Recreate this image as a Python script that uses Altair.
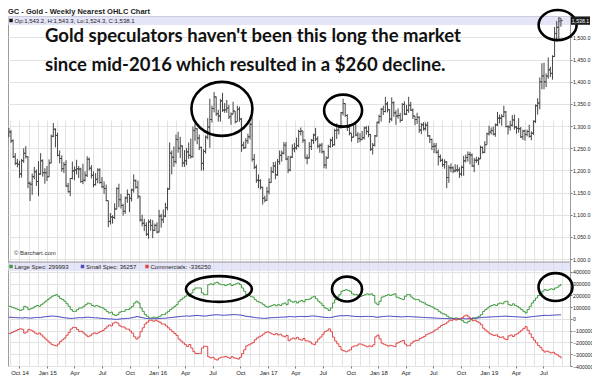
import altair as alt
import pandas as pd

# ---------------- data (weekly) ----------------
week_start = "2014-08-27"          # first weekly bar
first_open = 1280.0
last_bar = [1543.2, 1543.3, 1524.3, 1538.1]   # Op, H, Lo, C of the last bar (header)

close = [
    1287, 1267, 1231, 1216, 1214, 1192, 1222, 1239, 1231, 1171, 1169, 1186, 1197, 1175, 1192, 1222, 1195, 1195,
    1186, 1217, 1277, 1293, 1279, 1234, 1227, 1204, 1213, 1165, 1152, 1182, 1199, 1201, 1204, 1203, 1175,
    1178, 1189, 1225, 1205, 1189, 1168, 1180, 1201, 1173, 1163, 1159, 1132, 1085, 1095, 1094, 1113, 1159, 1134,
    1121, 1108, 1138, 1146, 1137, 1156, 1177, 1162, 1142, 1088, 1081, 1076, 1056, 1084, 1076, 1065, 1076,
    1061, 1097, 1089, 1097, 1116, 1158, 1239, 1230, 1220, 1270, 1250, 1255, 1217, 1222, 1242, 1234, 1231, 1290,
    1294, 1273, 1252, 1216, 1243, 1275, 1298, 1315, 1340, 1366, 1328, 1323, 1357, 1336, 1337, 1341, 1321,
    1327, 1334, 1310, 1338, 1316, 1257, 1251, 1267, 1276, 1304, 1225, 1207, 1178, 1177, 1162, 1137, 1133, 1152,
    1173, 1197, 1210, 1190, 1220, 1234, 1239, 1257, 1226, 1201, 1230, 1249, 1251, 1256, 1288, 1289, 1268,
    1228, 1228, 1254, 1268, 1280, 1271, 1255, 1257, 1242, 1212, 1228, 1254, 1268, 1258, 1290, 1291, 1297,
    1330, 1351, 1324, 1297, 1284, 1275, 1304, 1280, 1272, 1270, 1274, 1296, 1288, 1281, 1248, 1257, 1278, 1309,
    1322, 1338, 1333, 1350, 1337, 1316, 1353, 1330, 1323, 1324, 1313, 1349, 1327, 1336, 1347, 1336, 1323,
    1315, 1320, 1291, 1303, 1294, 1302, 1278, 1270, 1254, 1255, 1241, 1231, 1223, 1213, 1219, 1184, 1206, 1206,
    1199, 1201, 1201, 1192, 1207, 1222, 1229, 1236, 1235, 1210, 1223, 1223, 1226, 1252, 1241, 1258, 1283,
    1287, 1290, 1282, 1303, 1318, 1318, 1322, 1332, 1299, 1298, 1302, 1314, 1298, 1295, 1294, 1276, 1289,
    1281, 1288, 1277, 1284, 1311, 1346, 1352, 1400, 1413, 1400, 1413, 1427, 1419, 1457, 1509, 1523, 1537, 1538.1,
]
high = [
    1296, 1291, 1270, 1239, 1226, 1222, 1226, 1250, 1255, 1232, 1175, 1193, 1208, 1202, 1221, 1239, 1225, 1205,
    1210, 1225, 1281, 1307, 1295, 1285, 1245, 1234, 1219, 1223, 1172, 1183, 1220, 1209, 1224, 1210, 1206,
    1215, 1198, 1232, 1229, 1212, 1198, 1194, 1205, 1205, 1185, 1175, 1168, 1132, 1104, 1099, 1126, 1162, 1170,
    1147, 1125, 1141, 1157, 1146, 1159, 1191, 1180, 1177, 1142, 1100, 1091, 1083, 1089, 1090, 1088, 1080,
    1083, 1111, 1102, 1112, 1127, 1161, 1263, 1245, 1254, 1281, 1287, 1276, 1257, 1246, 1251, 1263, 1272, 1299,
    1306, 1296, 1281, 1254, 1248, 1279, 1318, 1362, 1346, 1377, 1367, 1337, 1361, 1375, 1352, 1359, 1348,
    1331, 1355, 1334, 1346, 1344, 1318, 1265, 1273, 1283, 1308, 1338, 1237, 1213, 1191, 1180, 1163, 1143, 1163,
    1182, 1208, 1219, 1220, 1226, 1245, 1245, 1264, 1264, 1233, 1233, 1259, 1262, 1274, 1292, 1297, 1289,
    1270, 1236, 1264, 1271, 1283, 1296, 1277, 1261, 1262, 1245, 1232, 1258, 1272, 1276, 1294, 1306, 1300,
    1332, 1362, 1352, 1327, 1305, 1284, 1306, 1306, 1287, 1284, 1289, 1299, 1300, 1301, 1282, 1262, 1280, 1310,
    1326, 1341, 1346, 1366, 1355, 1338, 1365, 1356, 1336, 1340, 1330, 1352, 1356, 1348, 1366, 1355, 1340,
    1323, 1330, 1322, 1307, 1309, 1308, 1310, 1280, 1272, 1262, 1262, 1247, 1236, 1227, 1225, 1221, 1212, 1216,
    1209, 1214, 1213, 1207, 1211, 1233, 1236, 1243, 1242, 1238, 1228, 1231, 1230, 1256, 1254, 1266, 1285,
    1301, 1297, 1299, 1306, 1332, 1326, 1327, 1346, 1334, 1302, 1312, 1325, 1326, 1300, 1318, 1298, 1292,
    1292, 1292, 1303, 1288, 1313, 1349, 1363, 1410, 1442, 1443, 1419, 1455, 1434, 1460, 1524, 1537, 1546, 1543.3,
]
low = [
    1275, 1262, 1228, 1212, 1207, 1183, 1184, 1217, 1227, 1160, 1131, 1145, 1180, 1165, 1142, 1190, 1186, 1170,
    1176, 1185, 1216, 1275, 1252, 1232, 1216, 1197, 1194, 1163, 1150, 1142, 1180, 1178, 1191, 1183, 1172,
    1169, 1175, 1185, 1200, 1182, 1162, 1166, 1171, 1170, 1160, 1147, 1130, 1072, 1078, 1080, 1090, 1112, 1117,
    1114, 1098, 1102, 1127, 1106, 1130, 1150, 1159, 1136, 1085, 1074, 1063, 1052, 1046, 1064, 1047, 1063,
    1058, 1060, 1071, 1081, 1094, 1110, 1157, 1191, 1208, 1215, 1240, 1228, 1208, 1208, 1212, 1226, 1227, 1229,
    1267, 1259, 1246, 1200, 1200, 1238, 1270, 1251, 1308, 1331, 1323, 1310, 1310, 1332, 1330, 1330, 1316,
    1303, 1327, 1306, 1310, 1310, 1242, 1248, 1250, 1260, 1270, 1220, 1203, 1172, 1160, 1157, 1123, 1128, 1131,
    1146, 1172, 1194, 1180, 1188, 1213, 1220, 1236, 1223, 1194, 1198, 1228, 1241, 1247, 1252, 1279, 1262,
    1227, 1214, 1227, 1246, 1260, 1266, 1250, 1240, 1238, 1205, 1204, 1227, 1251, 1253, 1256, 1271, 1281,
    1294, 1324, 1321, 1289, 1279, 1265, 1274, 1277, 1262, 1264, 1268, 1270, 1281, 1275, 1244, 1236, 1254, 1276,
    1305, 1310, 1325, 1331, 1331, 1307, 1311, 1321, 1303, 1317, 1308, 1312, 1325, 1325, 1330, 1334, 1316,
    1302, 1305, 1285, 1282, 1290, 1290, 1276, 1262, 1246, 1239, 1238, 1211, 1219, 1208, 1204, 1160, 1172, 1196,
    1194, 1196, 1196, 1183, 1187, 1188, 1218, 1220, 1214, 1208, 1196, 1217, 1212, 1226, 1238, 1239, 1258,
    1279, 1281, 1279, 1276, 1300, 1306, 1301, 1320, 1297, 1281, 1290, 1299, 1292, 1283, 1285, 1273, 1269,
    1267, 1277, 1274, 1268, 1280, 1307, 1326, 1338, 1383, 1383, 1388, 1407, 1411, 1405, 1456, 1491, 1495, 1524.3,
]

# COT net positions, thousands of contracts
large_spec_k = [
    108, 101, 94, 87, 80, 73, 80, 108, 101, 80,
    87, 94, 108, 115, 108, 122, 136, 151, 165, 179,
    193, 200, 207, 193, 175, 165, 151, 130, 108, 80,
    65, 65, 80, 94, 94, 108, 122, 136, 130, 115,
    108, 115, 108, 100, 94, 80, 65, 51, 58, 37,
    30, 37, 58, 65, 65, 80, 80, 94, 108, 136,
    151, 136, 94, 65, 37, 23, 9, 9, 16, 9,
    16, 23, 37, 37, 51, 65, 80, 94, 108, 122,
    151, 165, 179, 193, 207, 193, 221, 250, 264, 264,
    264, 221, 207, 207, 292, 299, 292, 306, 313, 299,
    292, 292, 285, 292, 299, 285, 292, 299, 306, 292,
    264, 236, 207, 200, 193, 186, 165, 151, 143, 136,
    122, 108, 101, 108, 115, 122, 112, 122, 115, 129,
    136, 122, 165, 151, 143, 151, 136, 151, 158, 146,
    165, 165, 172, 186, 193, 172, 151, 136, 115, 94,
    87, 72, 94, 136, 165, 186, 207, 236, 243, 250,
    243, 236, 214, 207, 207, 193, 193, 200, 207, 214,
    207, 214, 200, 136, 122, 151, 186, 193, 200, 207,
    200, 207, 214, 186, 179, 172, 165, 193, 207, 207,
    186, 172, 165, 165, 151, 143, 136, 122, 115, 108,
    101, 87, 80, 65, 51, 44, 37, 23, 9, 9,
    3, 9, 0, -5, -14, -28, -34, -20, -5, 9,
    3, 15, 23, 37, 65, 80, 94, 108, 115, 122,
    115, 129, 136, 129, 146, 151, 122, 115, 129, 115,
    108, 94, 80, 65, 51, 80, 108, 136, 158, 179,
    200, 214, 236, 250, 243, 250, 257, 250, 264, 271,
    285, 299.993,
]
small_spec_k = [
    15, 14, 12, 12, 10, 10, 8, 12, 10, 8, 8, 10, 12, 13, 12, 14,
    18, 20, 22, 24, 25, 24, 22, 20, 16, 12, 10, 8, 6, 5, 6,
    8, 10, 12, 10, 12, 14, 15, 13, 12, 10, 10, 8, 6, 5, 3,
    2, 0, 1, -2, -3, -2, 0, 2, 3, 5, 6, 8, 12, 16, 20,
    18, 14, 10, 6, 4, 2, 2, 3, 2, 3, 4, 6, 6, 8, 10,
    12, 14, 16, 18, 20, 22, 24, 25, 26, 24, 26, 28, 30, 30, 28,
    26, 25, 26, 30, 32, 34, 35, 36, 34, 33, 32, 33, 34, 35, 36, 38, 36, 35, 34, 30,
    26, 22, 20, 18, 15, 12, 10, 8, 7, 6, 6, 8, 10, 12, 12, 13, 14, 15, 16, 16,
    18, 20, 20, 19, 18, 20, 22, 22, 20, 21, 22, 24, 26, 25, 23, 20, 18, 16, 14, 13,
    12, 14, 18, 22, 25, 27, 28, 28, 29, 28, 26, 24, 22, 21, 20, 20, 21, 22, 22, 22,
    21, 20, 16, 15, 18, 20, 22, 23, 24, 24, 22, 21, 20, 19, 18, 18, 20, 21, 20, 19,
    18, 17, 16, 15, 14, 13, 12, 11, 10, 9, 8, 7, 6, 5, 4, 4, 3, 2, 2, 1,
    0, 1, 2, 3, 2, 1, 3, 5, 6, 8, 8, 10, 12, 14, 15, 16, 17, 18, 19, 20,
    21, 22, 23, 24, 24, 22, 21, 20, 19, 18, 17, 16, 15, 14, 16, 18, 20, 22, 24, 26,
    28, 30, 31, 30, 31, 32, 33, 34, 35, 35, 36.257,
]

series_names = ["Large Spec", "Small Spec", "Commercials"]
series_colors = ["#3f9a3f", "#4b4bc4", "#e34646"]

# annotation ellipses (centre date, value, width px, height/width)
ell_price_dates = ["2016-08-01", "2017-09-06", "2019-08-17"]
ell_price_vals = [1339, 1335, 1528]
ell_price_w = [61, 38, 38]
ell_price_k = [0.885, 0.84, 0.79]
ell_cot_dates = ["2016-07-22", "2017-09-19", "2019-08-10"]
ell_cot_vals = [255000, 255000, 272000]
ell_cot_w = [66, 30, 34]
ell_cot_k = [0.39, 0.83, 0.82]

headline = ["Gold speculators haven't been this long the market",
            "since mid-2016 which resulted in a $260 decline."]
title_text = "GC - Gold - Weekly Nearest OHLC Chart"

# ---------------- tables ----------------
n = len(close)
assert len(high) == n and len(low) == n and len(large_spec_k) == n and len(small_spec_k) == n
dates = pd.date_range(week_start, periods=n, freq="7D").strftime("%Y-%m-%d")
opens = [first_open] + close[:-1]
opens[-1] = last_bar[0]
price_df = pd.DataFrame({"date": dates, "open": opens, "high": high, "low": low, "close": close})

large = [int(round(v * 1000)) for v in large_spec_k]
small = [int(round(v * 1000)) for v in small_spec_k]
comm = [-(a + b) for a, b in zip(large, small)]
cot_df = pd.concat([
    pd.DataFrame({"date": dates, "series": series_names[0], "value": large}),
    pd.DataFrame({"date": dates, "series": series_names[1], "value": small}),
    pd.DataFrame({"date": dates, "series": series_names[2], "value": comm}),
])


def ell_path(k):
    return f"M -1 0 A 1 {k} 0 1 1 1 0 A 1 {k} 0 1 1 -1 0 Z"


ellp_df = pd.DataFrame({"date": ell_price_dates, "value": ell_price_vals,
                        "shp": [ell_path(k) for k in ell_price_k],
                        "sz": [w * w for w in ell_price_w]})
ellc_df = pd.DataFrame({"date": ell_cot_dates, "value": ell_cot_vals,
                        "shp": [ell_path(k) for k in ell_cot_k],
                        "sz": [w * w for w in ell_cot_w]})

# ---------------- layout ----------------
W, H, TOP_H = 562, 350, 246
FONT = "Liberation Sans"
GRID = "#e3e3e3"
AX_FS = 5.2

month_ticks = [alt.DateTime(year=y, month=m, date=1, utc=True)
               for y in range(2014, 2020) for m in range(1, 13)
               if (2014, 9) <= (y, m) <= (2019, 9)]
x_scale = alt.Scale(type="utc", domain=[alt.DateTime(year=2014, month=8, date=24, utc=True),
                                        alt.DateTime(year=2019, month=9, date=27, utc=True)])
x_axis = alt.Axis(
    values=month_ticks, title=None, grid=True, gridColor=GRID, domain=False,
    tickSize=2, tickColor="#777",
    tickOpacity={"condition": {"test": "utcmonth(datum.value) % 3 == 0", "value": 1}, "value": 0},
    labelFont=FONT, labelFontSize=6, labelColor="#222", labelPadding=1, labelOverlap=False,
    labelExpr=("utcmonth(datum.value) % 3 != 0 ? '' : ((utcmonth(datum.value) == 0 || "
               "utcyear(datum.value) == 2014) ? utcFormat(datum.value, '%b %y') : "
               "utcFormat(datum.value, '%b'))"),
)
X = alt.X("date:T", scale=x_scale, axis=x_axis)

yp_scale = alt.Scale(domain=[993.4, 1548.5], range=[TOP_H, 0], nice=False, zero=False)
yp_axis = alt.Axis(orient="right", values=list(range(1000, 1501, 50)), format=",.1f", title=None,
                   grid=True, gridColor=GRID, domain=False, tickSize=2, tickColor="#777",
                   labelFont=FONT, labelFontSize=AX_FS, labelColor="#222", labelPadding=0.5)
yc_scale = alt.Scale(domain=[-400000, 485000], range=[H, TOP_H], nice=False, zero=False)
yc_axis = alt.Axis(orient="right", values=list(range(-400000, 400001, 100000)), format="d", title=None,
                   grid=True, gridColor=GRID, domain=False, tickSize=2, tickColor="#777",
                   labelFont=FONT, labelFontSize=AX_FS, labelColor="#222", labelPadding=0.5)

one = pd.DataFrame({"k": [0]})


def txt(text, x, y, size=6, weight="normal", color="#222", font=FONT, align="left", baseline="middle"):
    return alt.Chart(one).mark_text(text=text, fontSize=size, fontWeight=weight, color=color, font=font,
                                    align=align, baseline=baseline).encode(x=alt.value(x), y=alt.value(y))


def square(x, y, color):
    return alt.Chart(one).mark_square(size=12, color=color, opacity=1).encode(x=alt.value(x), y=alt.value(y))


# background strips
strip_top = alt.Chart(one).mark_rect(color="#dcdcf6", opacity=0.75).encode(
    x=alt.value(0), x2=alt.value(W), y=alt.value(0), y2=alt.value(9))
strip_low = alt.Chart(one).mark_rect(color="#dcdcf6", opacity=0.75).encode(
    x=alt.value(0), x2=alt.value(W), y=alt.value(TOP_H), y2=alt.value(TOP_H + 9))
sep = alt.Chart(one).mark_rule(color="#9a9a9a", strokeWidth=1).encode(
    x=alt.value(0), x2=alt.value(W), y=alt.value(TOP_H))

# price panel
BAR = "#454545"
pb = alt.Chart(price_df)
hl = pb.mark_rule(color=BAR, strokeWidth=1).encode(
    x=X, y=alt.Y("low:Q", scale=yp_scale, axis=yp_axis), y2="high:Q")
op = pb.mark_tick(orient="horizontal", size=1.6, thickness=1, xOffset=-0.9, color=BAR, opacity=1).encode(
    x=X, y=alt.Y("open:Q", scale=yp_scale, axis=yp_axis))
cl = pb.mark_tick(orient="horizontal", size=1.6, thickness=1, xOffset=0.9, color=BAR, opacity=1).encode(
    x=X, y=alt.Y("close:Q", scale=yp_scale, axis=yp_axis))
ellp = alt.Chart(ellp_df).mark_point(filled=False, color="black", strokeWidth=2.6, opacity=1).encode(
    x=X, y=alt.Y("value:Q", scale=yp_scale, axis=yp_axis),
    shape=alt.Shape("shp:N", scale=None), size=alt.Size("sz:Q", scale=None))
last_df = pd.DataFrame({"c": [last_bar[3]], "t": [f"{last_bar[3]:,.1f}"]})
last_box = alt.Chart(last_df).mark_point(
    shape="M -1 -0.44 L 1 -0.44 L 1 0.44 L -1 0.44 Z", filled=True, size=361, color="#1c1c1c", opacity=1
).encode(x=alt.value(W + 10.5), y=alt.Y("c:Q", scale=yp_scale, axis=yp_axis))
last_txt = alt.Chart(last_df).mark_text(font=FONT, fontSize=AX_FS, color="white", align="center",
                                        baseline="middle").encode(
    x=alt.value(W + 10.5), y=alt.Y("c:Q", scale=yp_scale, axis=yp_axis), text="t:N")
price_layer = alt.layer(hl, op, cl, ellp, last_box, last_txt)

# COT panel
lines = alt.Chart(cot_df).mark_line(interpolate="step-after", strokeWidth=1).encode(
    x=X, y=alt.Y("value:Q", scale=yc_scale, axis=yc_axis),
    color=alt.Color("series:N", scale=alt.Scale(domain=series_names, range=series_colors), legend=None))
ellc = alt.Chart(ellc_df).mark_point(filled=False, color="black", strokeWidth=2.6, opacity=1).encode(
    x=X, y=alt.Y("value:Q", scale=yc_scale, axis=yc_axis),
    shape=alt.Shape("shp:N", scale=None), size=alt.Size("sz:Q", scale=None))
cot_layer = alt.layer(lines, ellc)

# texts
ohlc_text = f"Op:{last_bar[0]:,.1f}, H:{last_bar[1]:,.1f}, Lo:{last_bar[2]:,.1f}, C:{last_bar[3]:,.1f}"
decor = [
    txt(title_text, 0, -2.5, size=7.5, weight="bold", color="#222", baseline="alphabetic"),
    square(3, 4.5, "#111"), txt(ohlc_text, 6.5, 4.8, size=6),
    txt("\u00a9 Barchart.com", 6, 237, size=6, color="#333"),
    txt(headline[0], 37, 20, size=18.5, weight="bold", color="#111", font="Lato"),
    txt(headline[1], 37, 49, size=18.5, weight="bold", color="#111", font="Lato"),
    square(3, 250.5, series_colors[0]), txt(f"Large Spec: {large[-1]}", 6.5, 250.8),
    square(74.5, 250.5, series_colors[1]), txt(f"Small Spec: {small[-1]}", 78, 250.8),
    square(139, 250.5, series_colors[2]), txt(f"Commercials: {comm[-1]}", 142.5, 250.8),
]

chart = alt.layer(
    strip_top, strip_low, price_layer, cot_layer, sep, *decor
).resolve_scale(y="independent").properties(
    width=W, height=H,
    autosize=alt.AutoSizeParams(type="none"),
    padding={"left": 0, "top": 8, "right": 22, "bottom": 12},
).configure_view(stroke="#9a9a9a", strokeWidth=1)

chart.save("out.html", embed_options={"renderer": "svg", "actions": False})
